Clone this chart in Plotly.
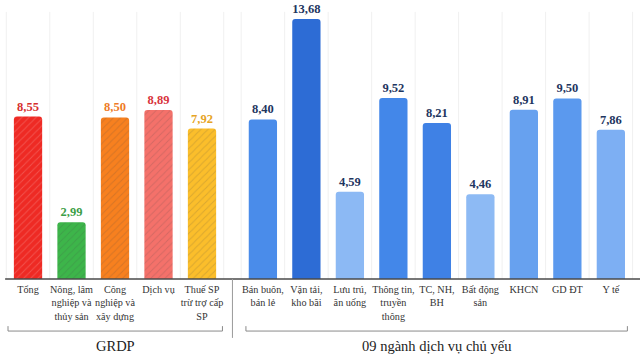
import plotly.graph_objects as go

# ---- data ----
grdp_labels = ["Tổng", "Nông, lâm<br>nghiệp và<br>thủy sản", "Công<br>nghiệp và<br>xây dựng",
               "Dịch vụ", "Thuế SP<br>trừ trợ cấp<br>SP"]
grdp_values = [8.55, 2.99, 8.50, 8.89, 7.92]

dv_labels = ["Bán buôn,<br>bán lẻ", "Vận tải,<br>kho bãi", "Lưu trú,<br>ăn uống",
             "Thông tin,<br>truyền<br>thông", "TC, NH,<br>BH", "Bất động<br>sản",
             "KHCN", "GD ĐT", "Y tế"]
dv_values = [8.40, 13.68, 4.59, 9.52, 8.21, 4.46, 8.91, 9.50, 7.86]

group_names = ["GRDP", "09 ngành dịch vụ chủ yếu"]

# ---- styles ----
grdp_colors = ["#EE2A24", "#3DB54A", "#F7801F", "#F4716A", "#FBBE2B"]
grdp_text_colors = ["#D62E2E", "#3C9E46", "#EE7A26", "#D8343C", "#E6A424"]
dv_colors = ["#4A8CEA", "#2D6CD5", "#8CB9F4", "#4387E9", "#3F81E5",
             "#8DBAF4", "#67A1EF", "#5B99EE", "#7DAFF3"]
dv_text_color = "#1E3560"
GAP = 1.4
serif = "'Liberation Serif', 'Times New Roman', serif"

x1 = list(range(len(grdp_values)))
x2 = [x1[-1] + GAP + i for i in range(len(dv_values))]

def fmt(v):
    return f"{v:.2f}".replace(".", ",")

fig = go.Figure()
fig.add_trace(go.Bar(
    x=x1, y=grdp_values, width=0.65,
    marker=dict(color=grdp_colors, line=dict(width=0),
                pattern=dict(shape="/", fgcolor="white", fgopacity=0.18, size=5, solidity=0.2)),
    text=[fmt(v) for v in grdp_values], textposition="outside",
    textfont=dict(family=serif, size=12.5, color=grdp_text_colors, weight="bold"),
    cliponaxis=False, showlegend=False, hoverinfo="skip"))
fig.add_trace(go.Bar(
    x=x2, y=dv_values, width=0.65,
    marker=dict(color=dv_colors, line=dict(width=0)),
    text=[fmt(v) for v in dv_values], textposition="outside",
    textfont=dict(family=serif, size=12.5, color=dv_text_color, weight="bold"),
    cliponaxis=False, showlegend=False, hoverinfo="skip"))

shapes = []
# faint vertical grid lines at category boundaries
for xs in (x1, x2):
    for b in [xs[0] - 0.5] + [x + 0.5 for x in xs]:
        shapes.append(dict(type="line", xref="x", yref="paper", x0=b, x1=b, y0=0, y1=0.975,
                           line=dict(color="#F0F0F0", width=1), layer="below"))
# baseline
shapes.append(dict(type="line", xref="paper", yref="paper", x0=0.008, x1=1, y0=0, y1=0,
                   line=dict(color="#4A4A4A", width=1.5)))
# separator
sep = (x1[-1] + x2[0]) / 2
shapes.append(dict(type="line", xref="x", yref="paper", x0=sep, x1=sep, y0=0, y1=-0.215,
                   line=dict(color="#9A9A9A", width=1)))
# brackets
yb, yt = -0.19, -0.172
for xs, pad_l, pad_r in ((x1, 0.46, 0.47), (x2, 0.39, 0.38)):
    a, b = xs[0] - pad_l, xs[-1] + pad_r
    shapes.append(dict(type="path", xref="x", yref="paper",
                       path=f"M {a} {yt} L {a} {yb} L {b} {yb} L {b} {yt}",
                       line=dict(color="#8A8A8A", width=1)))

annotations = []
for xs, name in ((x1, group_names[0]), (x2, group_names[1])):
    annotations.append(dict(x=(xs[0] + xs[-1]) / 2, y=-0.243, xref="x", yref="paper",
                            text=name, showarrow=False, yanchor="middle",
                            font=dict(family=serif, size=14.5, color="#222")))

fig.update_layout(
    width=640, height=354,
    margin=dict(l=0, r=0, t=5, b=75),
    paper_bgcolor="white", plot_bgcolor="white",
    barcornerradius=3,
    shapes=shapes, annotations=annotations,
    separators=",.",
    font=dict(family=serif),
    xaxis=dict(range=[-0.644, 14.07], tickvals=x1 + x2, ticktext=grdp_labels + dv_labels,
               tickangle=0, showgrid=False, zeroline=False, showline=False, ticks="",
               ticklabelstandoff=3,
               tickfont=dict(family=serif, size=10.2, color="#333"), fixedrange=True),
    yaxis=dict(range=[0, 14.42], visible=False, fixedrange=True),
)

fig.write_html("out.html")
